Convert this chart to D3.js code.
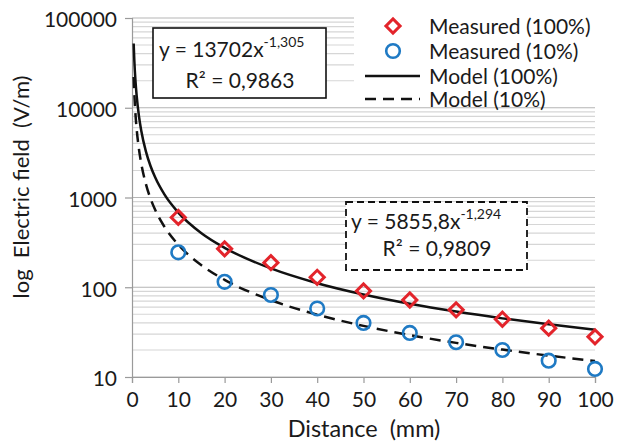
<!DOCTYPE html>
<html>
<head>
<meta charset="utf-8">
<script src="https://cdn.jsdelivr.net/npm/d3@7"></script>
<style>
  body { margin: 0; background: #fff; }
  text { font-family: Lato, "Open Sans", sans-serif; fill: #1a1a1a; }
</style>
</head>
<body>
<svg id="chart" width="619" height="445"></svg>
<script>
// distances (mm) of the measurements
const distances = [10, 20, 30, 40, 50, 60, 70, 80, 90, 100]
const measured100 = [600, 268, 188, 129, 91, 72, 56, 44, 35, 28]
const measured10 = [245, 115, 82, 58, 40, 31, 24.4, 20, 15.2, 12.3]

// model curves, values
const modelX = [0.36, 0.5, 0.75, 1, 1.5, 2, 3, 4, 5, 7, 10, 15, 20, 30, 40, 50, 60, 70, 80, 90, 100]
const model100 = [52000, 33860, 19950, 13702, 8073, 5546, 3267, 2245, 1677, 1081, 679, 400, 275, 162, 111, 83.1, 65.5, 53.6, 45.0, 38.6, 33.6]
const model10 = [21970, 14360, 8497, 5856, 3465, 2388, 1413, 974, 730, 472, 298, 176, 121, 71.8, 49.5, 37.1, 29.3, 24.0, 20.2, 17.3, 15.1]

const xTicks = [0, 10, 20, 30, 40, 50, 60, 70, 80, 90, 100]
const yTicks = [10, 100, 1000, 10000, 100000]

const legendItems = ["Measured (100%)", "Measured (10%)", "Model (100%)", "Model (10%)"]

const svg = d3.select("#chart")

const x = d3.scaleLinear().domain([0, 100]).range([132, 595])
const y = d3.scaleLog().domain([10, 100000]).range([377, 18])

// horizontal grid: every 1..9 x 10^k
const gridVals = []
for (let k = 1; k <= 4; k++) {
    for (let m = 1; m <= 9; m++) gridVals.push(m * Math.pow(10, k))
}
gridVals.push(100000)

svg.append("g")
    .selectAll("line")
    .data(gridVals)
    .join("line")
    .attr("x1", x(0))
    .attr("x2", x(100))
    .attr("y1", d => y(d))
    .attr("y2", d => y(d))
    .attr("stroke", d => yTicks.includes(d) ? "#b5b5b5" : "#d6d6d6")
    .attr("stroke-width", 1.2)

// axes
const yAxis = d3.axisLeft(y).tickValues(yTicks).tickFormat(d3.format("d")).tickSize(7).tickPadding(8)
const xAxis = d3.axisBottom(x).tickValues(xTicks).tickSize(6).tickPadding(8)

const gy = svg.append("g")
    .attr("transform", `translate(${x(0)},0)`)
    .call(yAxis)
gy.select(".domain").attr("stroke", "#9a9a9a").attr("stroke-width", 1.2)
gy.selectAll(".tick line").attr("stroke", "#9a9a9a").attr("stroke-width", 1.2)
gy.selectAll(".tick text").style("font-size", "21px").attr("dy", "0.42em").attr("fill", "#1a1a1a")

const gx = svg.append("g")
    .attr("transform", `translate(0,${y(10)})`)
    .call(xAxis)
gx.select(".domain").attr("stroke", "#9a9a9a").attr("stroke-width", 1.2)
gx.selectAll(".tick line").attr("stroke", "#9a9a9a").attr("stroke-width", 1.2)
gx.selectAll(".tick text").style("font-size", "21px").attr("dy", "0.78em").attr("fill", "#1a1a1a")

// axis titles
svg.append("text")
    .attr("x", 364)
    .attr("y", 437)
    .attr("text-anchor", "middle")
    .style("font-size", "23.5px")
    .style("white-space", "pre")
    .text("Distance  (mm)")

svg.append("text")
    .attr("transform", "translate(29,187) rotate(-90)")
    .attr("text-anchor", "middle")
    .style("font-size", "22px")
    .style("white-space", "pre")
    .text("log  Electric field  (V/m)")

// model lines
const line = d3.line()
    .x(d => x(d[0]))
    .y(d => y(d[1]))
    .curve(d3.curveMonotoneX)

svg.append("path")
    .datum(modelX.map((d, i) => [d, model100[i]]))
    .attr("d", line)
    .attr("fill", "none")
    .attr("stroke", "#111")
    .attr("stroke-width", 2.5)

svg.append("path")
    .datum(modelX.map((d, i) => [d, model10[i]]))
    .attr("d", line)
    .attr("fill", "none")
    .attr("stroke", "#111")
    .attr("stroke-width", 2.5)
    .attr("stroke-dasharray", "11,7")

// markers
const red = "#e3242b"
const blue = "#1f7ac4"
const diamond = d3.symbol().type(d3.symbolSquare).size(100)

svg.append("g")
    .selectAll("path")
    .data(distances)
    .join("path")
    .attr("d", diamond)
    .attr("transform", (d, i) => `translate(${x(d)},${y(measured100[i])}) rotate(45)`)
    .attr("fill", "none")
    .attr("stroke", red)
    .attr("stroke-width", 3)

svg.append("g")
    .selectAll("circle")
    .data(distances)
    .join("circle")
    .attr("cx", d => x(d))
    .attr("cy", (d, i) => y(measured10[i]))
    .attr("r", 6.8)
    .attr("fill", "none")
    .attr("stroke", blue)
    .attr("stroke-width", 2.6)

// equation box (100%)
svg.append("rect")
    .attr("x", 153).attr("y", 28).attr("width", 173).attr("height", 70)
    .attr("fill", "#fff").attr("stroke", "#111").attr("stroke-width", 1.6)

const eq1 = svg.append("text").attr("x", 159).attr("y", 57).style("font-size", "21px")
eq1.append("tspan").text("y = 13702x")
eq1.append("tspan").attr("dy", -10).style("font-size", "14px").text("-1,305")
svg.append("text").attr("x", 240).attr("y", 88).attr("text-anchor", "middle")
    .style("font-size", "21px").text("R² = 0,9863")

// equation box (10%)
svg.append("rect")
    .attr("x", 346).attr("y", 202).attr("width", 181).attr("height", 68)
    .attr("fill", "#fff").attr("stroke", "#111").attr("stroke-width", 1.8)
    .attr("stroke-dasharray", "7,4")

const eq2 = svg.append("text").attr("x", 351).attr("y", 229).style("font-size", "21px")
eq2.append("tspan").text("y = 5855,8x")
eq2.append("tspan").attr("dy", -10).style("font-size", "14px").text("-1,294")
svg.append("text").attr("x", 437).attr("y", 256).attr("text-anchor", "middle")
    .style("font-size", "21px").text("R² = 0,9809")

// legend
const lg = svg.append("g")
lg.append("rect").attr("x", 354).attr("y", 0).attr("width", 265).attr("height", 106).attr("fill", "#fff")

const rowY = [26, 51, 76, 99]
lg.selectAll("text")
    .data(legendItems)
    .join("text")
    .attr("x", 429)
    .attr("y", (d, i) => rowY[i])
    .attr("dy", "0.36em")
    .style("font-size", "21px")
    .text(d => d)

lg.append("path").attr("d", diamond)
    .attr("transform", `translate(393,${rowY[0]}) rotate(45)`)
    .attr("fill", "none").attr("stroke", red).attr("stroke-width", 3)
lg.append("circle").attr("cx", 393).attr("cy", rowY[1]).attr("r", 6.8)
    .attr("fill", "none").attr("stroke", blue).attr("stroke-width", 2.6)
lg.append("line").attr("x1", 365).attr("x2", 420).attr("y1", rowY[2]).attr("y2", rowY[2])
    .attr("stroke", "#111").attr("stroke-width", 2.5)
lg.append("line").attr("x1", 365).attr("x2", 420).attr("y1", rowY[3]).attr("y2", rowY[3])
    .attr("stroke", "#111").attr("stroke-width", 2.5).attr("stroke-dasharray", "11,7")
</script>
</body>
</html>
